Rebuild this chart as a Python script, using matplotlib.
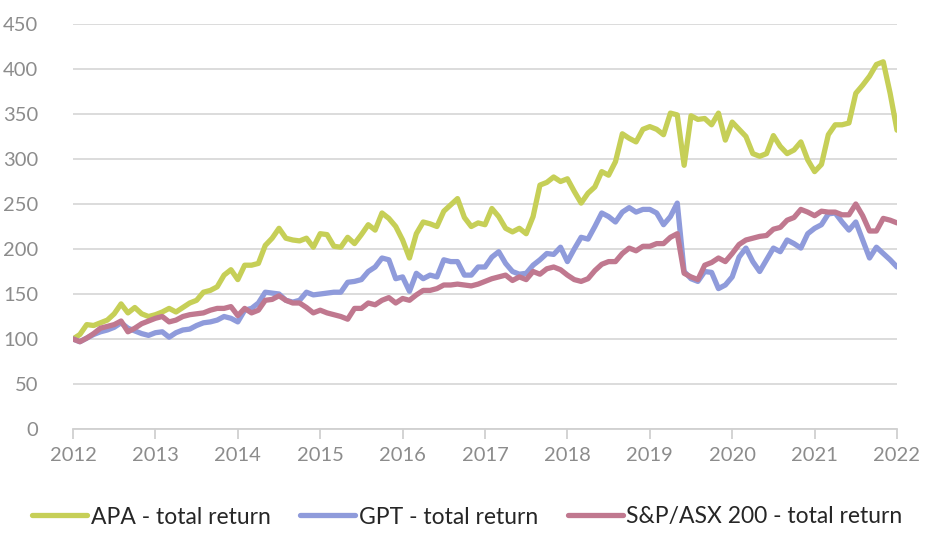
import numpy as np
import matplotlib
matplotlib.use('Agg')
import matplotlib.pyplot as plt

# monthly index values, Jan 2012 - Jan 2022
apa = [100, 105, 116, 115, 118, 121, 128, 139, 129, 135, 128, 125,
       127, 130, 134, 130, 135, 140, 143, 152, 154, 158, 171, 177,
       166, 182, 182, 184, 204, 212, 223, 212, 210, 209, 212, 202,
       217, 216, 203, 202, 213, 206, 216, 227, 221, 240, 234, 225,
       210, 190, 217, 230, 228, 225, 242, 249, 256, 235, 225, 229,
       227, 245, 236, 223, 219, 223, 217, 236, 271, 274, 280, 275,
       278, 264, 251, 262, 269, 286, 282, 297, 328, 323, 319, 333,
       336, 333, 327, 351, 349, 293, 348, 344, 345, 338, 351, 321,
       341, 333, 325, 306, 303, 306, 326, 314, 306, 310, 319, 299,
       286, 294, 327, 338, 338, 340, 373, 382, 392, 405, 408, 373,
       332]
gpt = [100, 97, 101, 105, 108, 110, 113, 118, 112, 109, 106, 104,
       107, 108, 102, 107, 110, 111, 115, 118, 119, 121, 125, 123,
       119, 132, 134, 140, 152, 151, 150, 143, 141, 143, 152, 149,
       150, 151, 152, 152, 163, 164, 166, 175, 180, 190, 188, 167,
       169, 153, 173, 167, 171, 169, 188, 186, 186, 171, 171, 180,
       180, 191, 197, 184, 175, 172, 173, 182, 188, 195, 194, 202,
       186, 200, 213, 211, 225, 240, 236, 230, 241, 246, 241, 244,
       244, 240, 227, 236, 251, 175, 167, 164, 175, 174, 156, 160,
       169, 191, 201, 186, 175, 188, 201, 197, 210, 206, 201, 217,
       223, 227, 239, 240, 230, 221, 230, 210, 190, 202, 195, 188,
       180]
asx = [100, 97, 101, 106, 112, 114, 116, 120, 108, 112, 117, 120,
       123, 125, 119, 121, 125, 127, 128, 129, 132, 134, 134, 136,
       126, 134, 129, 132, 143, 144, 148, 143, 140, 140, 135, 129,
       132, 129, 127, 125, 122, 134, 134, 140, 138, 143, 146, 140,
       145, 143, 149, 154, 154, 156, 160, 160, 161, 160, 159, 161,
       164, 167, 169, 171, 165, 169, 166, 175, 172, 178, 180, 177,
       171, 166, 164, 167, 176, 183, 186, 186, 195, 201, 198, 203,
       203, 206, 206, 213, 217, 173, 169, 166, 182, 185, 190, 186,
       195, 205, 210, 212, 214, 215, 222, 224, 232, 235, 244, 241,
       237, 242, 241, 241, 238, 238, 250, 237, 220, 220, 234, 232,
       229]
years = list(range(2012, 2023))
names = ['APA - total return', 'GPT - total return', 'S&P/ASX 200 - total return']
colors = ['#c6cf57', '#8f9bdb', '#c0788f']

months = np.arange(len(apa))

fig = plt.figure(figsize=(9.35, 5.38), dpi=100)
ax = fig.add_axes([73/935, 1-429/538, 824/935, 405/538])

for y, c, n in zip([apa, gpt, asx], colors, names):
    ax.plot(months, y, color=c, linewidth=3.8, label=n, solid_joinstyle='round', solid_capstyle='round')

ax.set_xlim(0, 120)
ax.set_ylim(0, 450)
ax.set_yticks(range(0, 451, 50))
ax.set_xticks(np.arange(0, 121, 12))
ax.set_xticklabels([str(y) for y in years])
ax.grid(axis='y', color='#d9d9d9', linewidth=1.3)
ax.set_axisbelow(True)
for s in ['top', 'right', 'left']:
    ax.spines[s].set_visible(False)
ax.spines['bottom'].set_color('#d0d0d0')
ax.spines['bottom'].set_linewidth(1.3)
ax.tick_params(axis='y', length=0, pad=25, labelsize=14.5, labelcolor='#8c8c8c')
ax.tick_params(axis='x', length=7, width=1.3, color='#d0d0d0', pad=6, labelsize=14.5, labelcolor='#8c8c8c')
for lab in ax.get_xticklabels() + ax.get_yticklabels():
    lab.set_family(['Lato', 'DejaVu Sans'])

leg = fig.legend(loc='center', bbox_to_anchor=(0.5, 1-517/538), ncol=3, frameon=False,
                 handlelength=2.4, handletextpad=0.15, columnspacing=1.3,
                 prop={'family': ['Lato', 'DejaVu Sans'], 'size': 16.5})
for t in leg.get_texts():
    t.set_color('#262626')

fig.savefig('out.png', dpi=100)
